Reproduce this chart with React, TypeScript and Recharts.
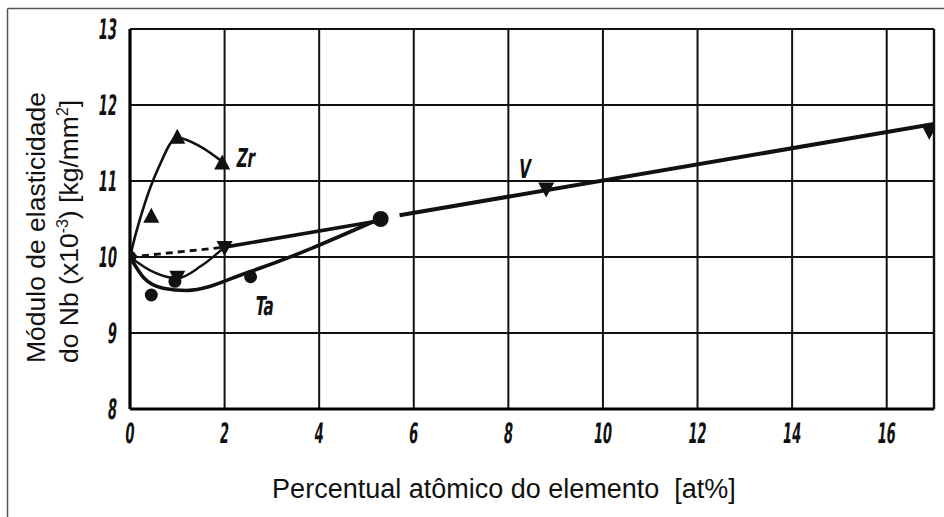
import React from "react"
import {
  ComposedChart,
  Line,
  Scatter,
  XAxis,
  YAxis,
  CartesianGrid,
  ReferenceLine,
} from "recharts"

// axis ticks
const xTicks = [0, 2, 4, 6, 8, 10, 12, 14, 16]
const yTicks = [8, 9, 10, 11, 12, 13]

// measured points (at% , E x10^-3 kg/mm2)
const zrPoints = [
  { x: 0.45, y: 10.53 },
  { x: 1.0, y: 11.57 },
  { x: 1.95, y: 11.23 },
]
const taPoints = [
  { x: 0, y: 10 },
  { x: 0.45, y: 9.5 },
  { x: 0.95, y: 9.68 },
  { x: 2.55, y: 9.74 },
  { x: 5.3, y: 10.5 },
]
const vPoints = [
  { x: 1.0, y: 9.74 },
  { x: 2.0, y: 10.13 },
  { x: 8.8, y: 10.9 },
  { x: 16.9, y: 11.66 },
]

// fitted curves
const zrCurve = [
  { x: 0, y: 10 },
  { x: 0.12, y: 10.3 },
  { x: 0.3, y: 10.68 },
  { x: 0.6, y: 11.17 },
  { x: 1.0, y: 11.57 },
  { x: 1.5, y: 11.45 },
  { x: 2.0, y: 11.23 },
]
const taCurve = [
  { x: 0, y: 10 },
  { x: 0.3, y: 9.72 },
  { x: 0.7, y: 9.59 },
  { x: 1.2, y: 9.56 },
  { x: 2.5, y: 9.8 },
  { x: 5.2, y: 10.48 },
]
const vCurve = [
  { x: 0, y: 10 },
  { x: 0.5, y: 9.8 },
  { x: 1.0, y: 9.72 },
  { x: 1.5, y: 9.88 },
  { x: 2.0, y: 10.13 },
]
const vLineA = [
  { x: 2.0, y: 10.13 },
  { x: 5.3, y: 10.48 },
]
const vLineB = [
  { x: 5.7, y: 10.55 },
  { x: 17, y: 11.75 },
]
const vDashed = [
  { x: 0, y: 10 },
  { x: 2.0, y: 10.13 },
]

// curve names
const curveLabels = [
  { x: 2.45, y: 11.3, text: "Zr" },
  { x: 2.85, y: 9.35, text: "Ta" },
  { x: 8.35, y: 11.15, text: "V" },
]

const INK = "#111"
const tickFont = "'DejaVu Sans Condensed', 'DejaVu Sans', sans-serif"
const titleFont = "'Liberation Sans', Arial, sans-serif"

function TickText({ anchor, children }: any) {
  return (
    <text
      transform="scale(0.52,1) skewX(-10)"
      textAnchor={anchor}
      dominantBaseline="central"
      fontFamily={tickFont}
      fontWeight="bold"
      fontSize={28}
      fill={INK}
    >
      {children}
    </text>
  )
}

function YTick({ x, y, payload }: any) {
  return (
    <g transform={`translate(${x},${y})`}>
      <TickText anchor="end">{payload.value}</TickText>
    </g>
  )
}

function XTick({ x, y, payload }: any) {
  return (
    <g transform={`translate(${x},${y + 24})`}>
      <TickText anchor="middle">{payload.value}</TickText>
    </g>
  )
}

function TriUp({ cx, cy }: any) {
  return <path d={`M${cx},${cy - 9} L${cx + 8},${cy + 6} L${cx - 8},${cy + 6} Z`} fill={INK} />
}

function TriDown({ cx, cy }: any) {
  return <path d={`M${cx - 8},${cy - 6} L${cx + 8},${cy - 6} L${cx},${cy + 9} Z`} fill={INK} />
}

function Dot({ cx, cy, payload }: any) {
  return <circle cx={cx} cy={cy} r={payload.x > 5 ? 8 : 6.5} fill={INK} />
}

function CurveName({ cx, cy, payload }: any) {
  return (
    <g transform={`translate(${cx},${cy})`}>
      <text
        transform="scale(0.65,1) skewX(-12)"
        textAnchor="middle"
        dominantBaseline="central"
        fontFamily={tickFont}
        fontWeight="bold"
        fontSize={26}
        fill={INK}
      >
        {payload.text}
      </text>
    </g>
  )
}

export default function App() {
  return (
    <div style={{ position: "absolute", left: 0, top: 0, width: 944, height: 517, background: "#fff" }}>
      <ComposedChart
        width={944}
        height={517}
        margin={{ top: 29, right: 10, bottom: 78, left: 70 }}
      >
        <CartesianGrid stroke="#111" strokeWidth={2} />
        <XAxis
          type="number"
          dataKey="x"
          domain={[0, 17]}
          ticks={xTicks}
          height={30}
          tickSize={0}
          tickMargin={0}
          tick={<XTick />}
          axisLine={{ stroke: "#000", strokeWidth: 3.2 }}
          tickLine={false}
          allowDataOverflow
        />
        <YAxis
          type="number"
          dataKey="y"
          domain={[8, 13]}
          ticks={yTicks}
          width={60}
          tickSize={0}
          tickMargin={13}
          tick={<YTick />}
          axisLine={{ stroke: "#000", strokeWidth: 3.2 }}
          tickLine={false}
          allowDataOverflow
        />
        <ReferenceLine x={17} stroke="#111" strokeWidth={2.4} />

        <Line data={zrCurve} dataKey="y" type="monotone" stroke={INK} strokeWidth={2.6} dot={false} isAnimationActive={false} />
        <Line data={taCurve} dataKey="y" type="monotone" stroke={INK} strokeWidth={3.6} dot={false} isAnimationActive={false} />
        <Line data={vCurve} dataKey="y" type="monotone" stroke={INK} strokeWidth={2.4} dot={false} isAnimationActive={false} />
        <Line data={vLineA} dataKey="y" type="linear" stroke={INK} strokeWidth={3.6} dot={false} isAnimationActive={false} />
        <Line data={vLineB} dataKey="y" type="linear" stroke={INK} strokeWidth={4} dot={false} isAnimationActive={false} />
        <Line data={vDashed} dataKey="y" type="linear" stroke={INK} strokeWidth={2.8} strokeDasharray="7 5" dot={false} isAnimationActive={false} />

        <Scatter data={zrPoints} shape={<TriUp />} isAnimationActive={false} />
        <Scatter data={taPoints} shape={<Dot />} isAnimationActive={false} />
        <Scatter data={vPoints} shape={<TriDown />} isAnimationActive={false} />
        <Scatter data={curveLabels} shape={<CurveName />} isAnimationActive={false} />
      </ComposedChart>

      <svg
        width={944}
        height={517}
        style={{ position: "absolute", left: 0, top: 0, pointerEvents: "none" }}
      >
        {/* outer frame */}
        <line x1={7.5} y1={8.5} x2={944} y2={8.5} stroke="#555" strokeWidth={1.5} />
        <line x1={7.5} y1={8.5} x2={7.5} y2={517} stroke="#555" strokeWidth={1.5} />

        <text transform="translate(45,363) rotate(-90)" fontFamily={titleFont} fontSize={26.5} fill="#111">
          Módulo de elasticidade
        </text>
        <text transform="translate(78,363) rotate(-90)" fontFamily={titleFont} fontSize={26.5} fill="#111">
          do Nb (x10
          <tspan dy={-10} fontSize={16}>-3</tspan>
          <tspan dy={10}>) [kg/mm</tspan>
          <tspan dy={-10} fontSize={16}>2</tspan>
          <tspan dy={10}>]</tspan>
        </text>
        <text
          x={504}
          y={498}
          textAnchor="middle"
          fontFamily={titleFont}
          fontSize={27}
          fill="#111"
          style={{ whiteSpace: "pre" }}
        >
          {"Percentual atômico do elemento  [at%]"}
        </text>
      </svg>
    </div>
  )
}
